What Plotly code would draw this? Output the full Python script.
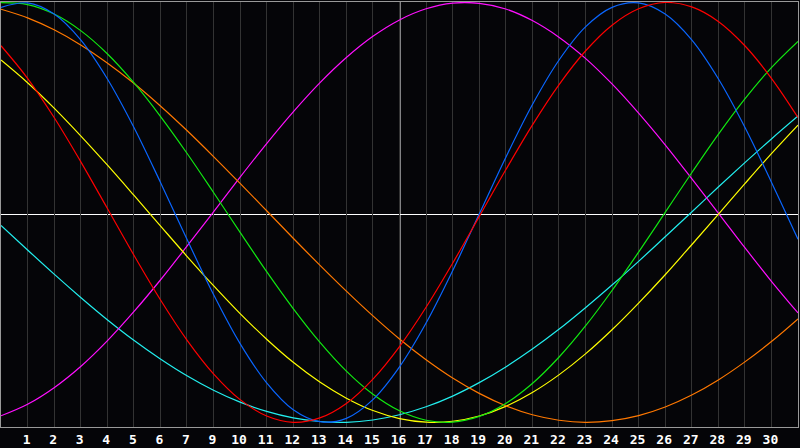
import plotly.graph_objects as go

# day positions across the chart (30 day slots, today in the middle)
days = [0, 1, 2, 3, 4, 5, 6, 7, 8, 9, 10, 11, 12, 13, 14, 15,
        16, 17, 18, 19, 20, 21, 22, 23, 24, 25, 26, 27, 28, 29, 30]

# tick labels as shown (the "8" is missing in the original)
tick_pos = [1, 2, 3, 4, 5, 6, 7, 8, 9, 10, 11, 12, 13, 14, 15,
            16, 17, 18, 19, 20, 21, 22, 23, 24, 25, 26, 27, 28, 29]
tick_text = ["1", "2", "3", "4", "5", "6", "7", "9", "10", "11", "12", "13", "14", "15",
             "16", "17", "18", "19", "20", "21", "22", "23", "24", "25", "26", "27", "28", "29", "30"]

# cycle values, one per day slot
red = [0.794, 0.639, 0.452, 0.242, 0.020, -0.203, -0.416, -0.608, -0.769, -0.892, -0.970,
       -1.000, -0.979, -0.910, -0.794, -0.639, -0.452, -0.242, -0.020, 0.203, 0.416,
       0.608, 0.769, 0.892, 0.970, 1.000, 0.979, 0.910, 0.794, 0.639, 0.452]
blue = [0.977, 0.998, 0.945, 0.822, 0.637, 0.406, 0.144, -0.128, -0.391, -0.625, -0.812,
        -0.940, -0.997, -0.981, -0.892, -0.736, -0.527, -0.278, -0.008, 0.262, 0.513,
        0.725, 0.884, 0.977, 0.998, 0.945, 0.822, 0.637, 0.406, 0.144, -0.128]
green = [0.999, 0.990, 0.945, 0.866, 0.756, 0.618, 0.458, 0.282, 0.095, -0.095, -0.282,
         -0.458, -0.618, -0.756, -0.866, -0.945, -0.990, -0.999, -0.972, -0.910, -0.815,
         -0.690, -0.541, -0.372, -0.189, 0.000, 0.189, 0.372, 0.541, 0.690, 0.815]
orange = [0.968, 0.927, 0.870, 0.798, 0.712, 0.615, 0.507, 0.390, 0.266, 0.138, 0.008,
          -0.123, -0.251, -0.375, -0.493, -0.603, -0.702, -0.789, -0.862, -0.921, -0.964,
          -0.990, -1.000, -0.992, -0.968, -0.927, -0.870, -0.798, -0.712, -0.615, -0.507]
yellow = [0.726, 0.618, 0.497, 0.365, 0.226, 0.082, -0.064, -0.209, -0.349, -0.482, -0.604,
          -0.714, -0.808, -0.885, -0.944, -0.982, -0.999, -0.995, -0.970, -0.924, -0.858,
          -0.774, -0.674, -0.559, -0.432, -0.297, -0.154, -0.009, 0.137, 0.280, 0.416]
cyan = [-0.062, -0.179, -0.294, -0.405, -0.511, -0.609, -0.698, -0.778, -0.847, -0.904, -0.948,
        -0.979, -0.996, -1.000, -0.989, -0.964, -0.926, -0.875, -0.811, -0.736, -0.651,
        -0.557, -0.454, -0.346, -0.233, -0.116, 0.002, 0.121, 0.237, 0.350, 0.459]
magenta = [-0.969, -0.914, -0.835, -0.734, -0.612, -0.473, -0.322, -0.161, 0.003, 0.168, 0.328,
           0.479, 0.617, 0.738, 0.839, 0.917, 0.970, 0.997, 0.996, 0.969, 0.914,
           0.835, 0.734, 0.612, 0.473, 0.322, 0.161, -0.003, -0.168, -0.328, -0.479]

series = [
    (cyan, "#22eeee"),
    (magenta, "#ff10ff"),
    (yellow, "#ffff00"),
    (orange, "#ff7800"),
    (green, "#11e811"),
    (blue, "#0a66ff"),
    (red, "#ff0000"),
]

fig = go.Figure()
for vals, col in series:
    fig.add_trace(go.Scatter(x=days, y=vals, mode="lines", line=dict(color=col, width=1.2, shape="spline"),
                             hoverinfo="skip", showlegend=False))

# today / zero lines
fig.add_shape(type="line", x0=15.019, x1=15.019, y0=0, y1=1, xref="x", yref="paper",
              line=dict(color="#ffffff", width=1), layer="between")
fig.add_shape(type="line", x0=0, x1=1, y0=-0.010, y1=-0.010, xref="paper", yref="y",
              line=dict(color="#ffffff", width=1), layer="between")

fig.update_layout(width=800, height=448, margin=dict(l=1, r=1, t=1, b=20),
                  paper_bgcolor="#050508", plot_bgcolor="#050508", showlegend=False,
                  xaxis=dict(range=[0, 30], tickvals=tick_pos, ticktext=tick_text, showgrid=True,
                             gridcolor="#333333", gridwidth=1, zeroline=False, showline=True,
                             linecolor="#999999", linewidth=1, mirror=True, ticks="", ticklabelshift=-1,
                             tickfont=dict(family="DejaVu Sans Mono", size=13, color="#ffffff", weight="bold")),
                  yaxis=dict(range=[-1.0223, 1.0024], showgrid=False, zeroline=False, showticklabels=False,
                             showline=True, linecolor="#999999", linewidth=1, mirror=True, ticks=""))

fig.write_html("out.html", config={"displayModeBar": False},
               post_script="document.body.style.margin='0';document.body.style.background='#050508';")
